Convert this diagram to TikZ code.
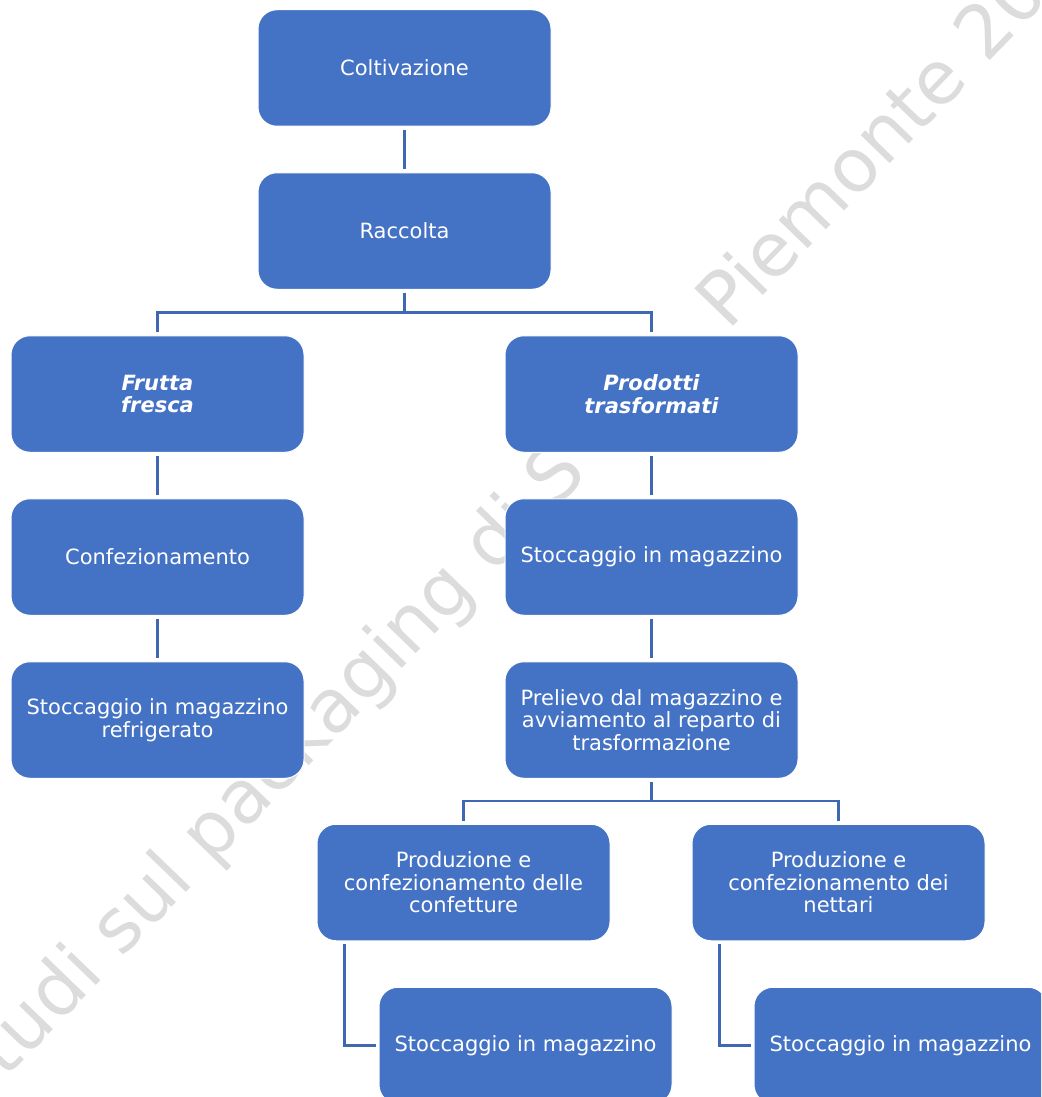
\documentclass[tikz,border=0pt]{standalone}
\usepackage{fontspec}
\setmainfont{DejaVu Sans}
\usetikzlibrary{calc}
\definecolor{boxblue}{HTML}{4472C4}
\definecolor{lineblue}{HTML}{4068B2}
\definecolor{wmgray}{HTML}{DCDCDC}
\tikzset{
  stepbox/.style={rectangle, rounded corners=19pt, fill=boxblue, draw=white, line width=1pt,
    minimum width=293pt, minimum height=116.5pt, text=white, align=center,
    font=\fontsize{21}{22.5}\selectfont, inner sep=0pt},
  stepboxit/.style={stepbox, font=\fontsize{21}{22.5}\selectfont\bfseries\itshape},
  conn/.style={draw=lineblue, line width=2.2pt, shorten <=3pt, shorten >=3pt},
  connhalf/.style={draw=lineblue, line width=2.2pt, shorten <=3pt},
  wmark/.style={text=wmgray, font=\fontsize{74}{80}\selectfont, rotate=46, inner sep=0pt},
}
\begin{document}
\begin{tikzpicture}[x=1pt,y=-1pt]
\useasboundingbox (0,0) rectangle (1041,1097);
\clip (0,0) rectangle (1041,1097);
% watermark
\node[wmark, anchor=base west] (wm1) at (-27,1113) {Studi sul packaging di S};
\node[wmark, anchor=base west] (wm2) at (728,332) {Piemonte 20};
% boxes
\node[stepbox] (colt) at (404.5,68) {Coltivazione};
\node[stepbox] (racc) at (404.5,231) {Raccolta};
\node[stepboxit] (frutta) at (157.5,394) {Frutta\\fresca};
\node[stepboxit] (prod) at (651.5,394) {Prodotti\\trasformati};
\node[stepbox] (confez) at (157.5,557) {Confezionamento};
\node[stepbox] (stock) at (651.5,557) {Stoccaggio in magazzino};
\node[stepbox] (refr) at (157.5,720) {Stoccaggio in magazzino\\refrigerato};
\node[stepbox] (prel) at (651.5,720) {Prelievo dal magazzino e\\avviamento al reparto di\\trasformazione};
\node[stepbox] (confet) at (463.5,882.5) {Produzione e\\confezionamento delle\\confetture};
\node[stepbox] (nett) at (838.5,882.5) {Produzione e\\confezionamento dei\\nettari};
\node[stepbox] (st1) at (525.5,1045.5) {Stoccaggio in magazzino};
\node[stepbox] (st2) at (900.5,1045.5) {Stoccaggio in magazzino};
% connectors
\draw[conn] (colt) -- (racc);
\coordinate (br1) at ($(racc.south)!0.5!(racc.south |- frutta.north)$);
\draw[connhalf] (racc.south) -- (br1);
\draw[conn] (frutta.north) |- (br1) -| (prod.north);
\draw[conn] (frutta) -- (confez);
\draw[conn] (confez) -- (refr);
\draw[conn] (prod) -- (stock);
\draw[conn] (stock) -- (prel);
\coordinate (br2) at ($(prel.south)!0.5!(prel.south |- confet.north)$);
\draw[connhalf] (prel.south) -- (br2);
\draw[conn] (confet.north) |- (br2) -| (nett.north);
\draw[conn] ([xshift=28pt]confet.south west) |- (st1.west);
\draw[conn] ([xshift=28pt]nett.south west) |- (st2.west);
\end{tikzpicture}
\end{document}
